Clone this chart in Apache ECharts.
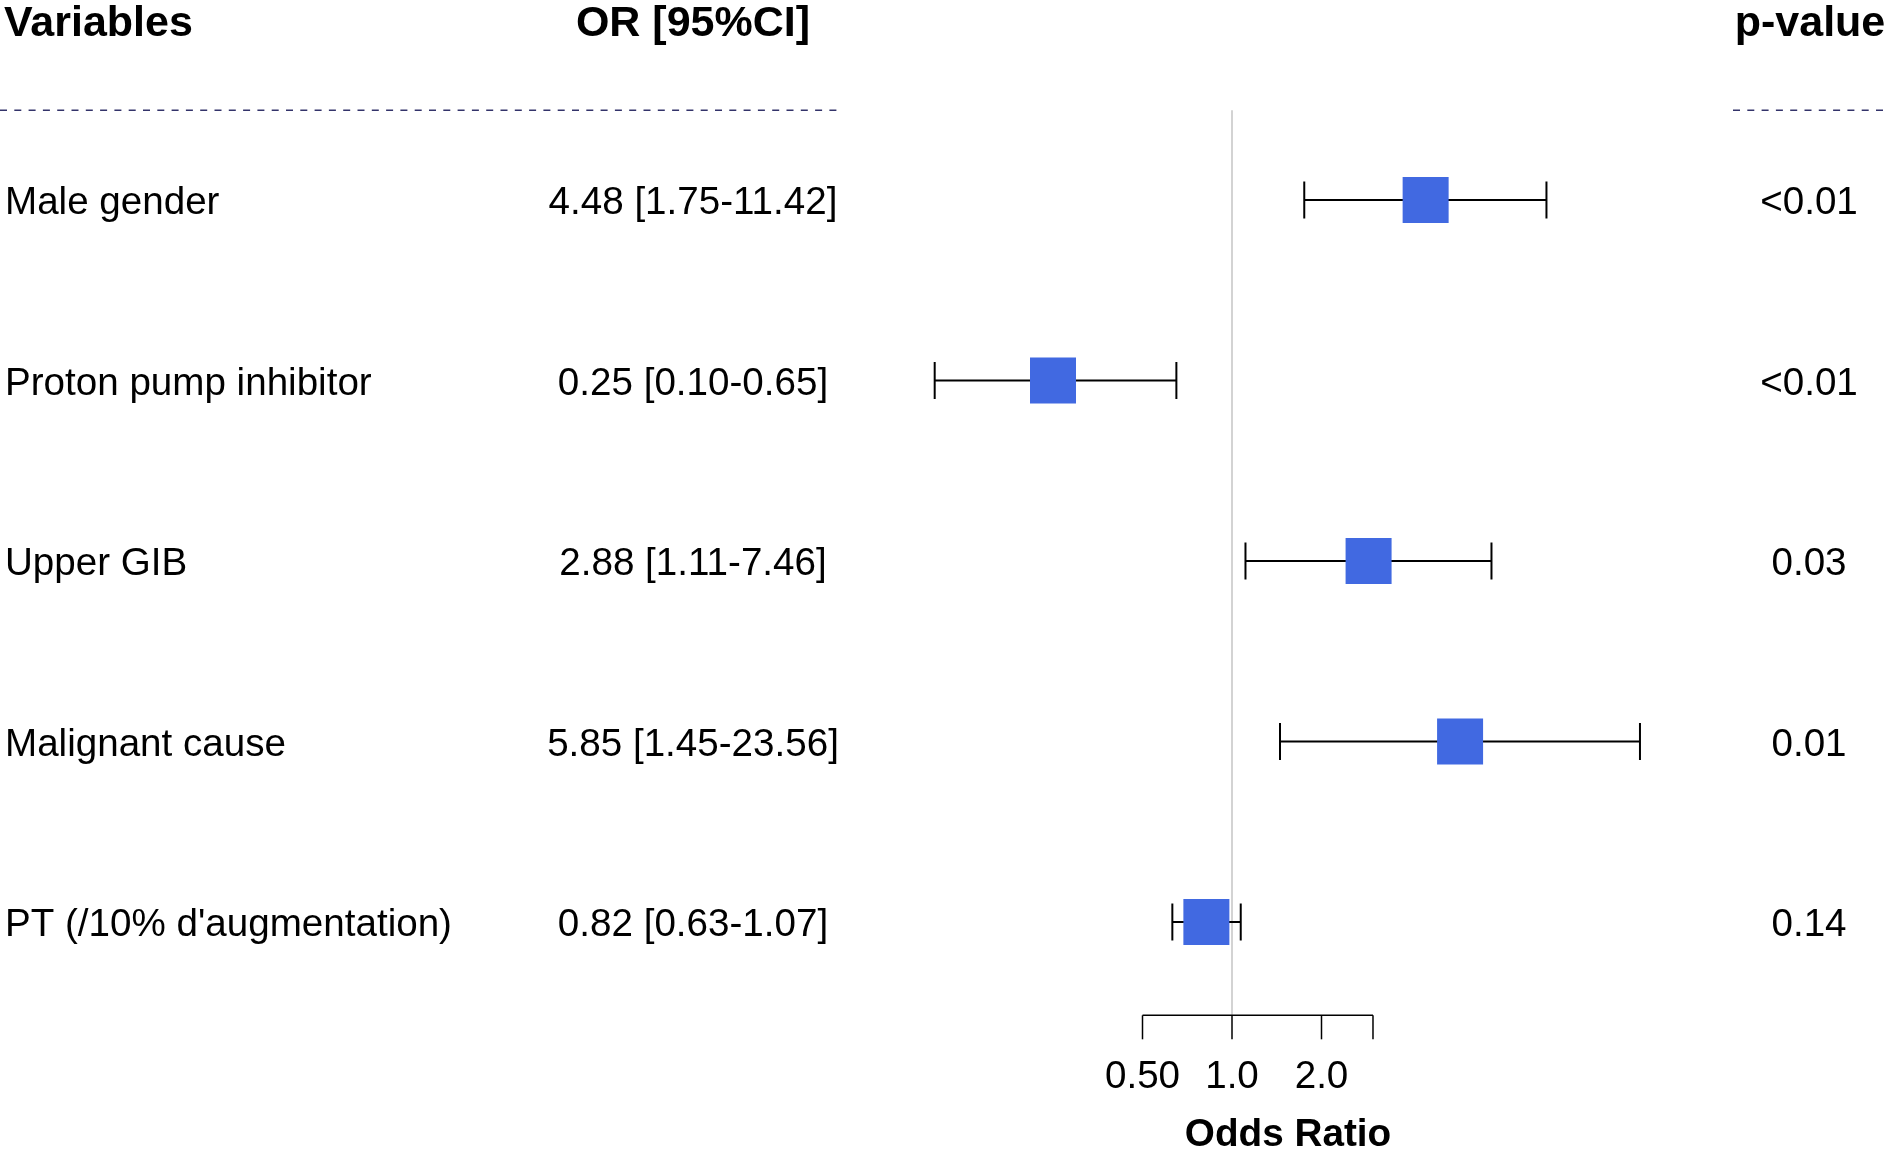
<!DOCTYPE html>
<html>
<head>
<meta charset="utf-8">
<script src="https://cdn.jsdelivr.net/npm/echarts@6/dist/echarts.min.js"></script>
<style>
html,body{margin:0;padding:0;background:#fff;}
#chart{width:1888px;height:1149px;}
</style>
</head>
<body>
<div id="chart"></div>
<script>
// ---- data ----
const variables = ['Male gender', 'Proton pump inhibitor', 'Upper GIB', 'Malignant cause', "PT (/10% d'augmentation)"];
const orValues = [4.48, 0.25, 2.88, 5.85, 0.82];
const ciLower = [1.75, 0.10, 1.11, 1.45, 0.63];
const ciUpper = [11.42, 0.65, 7.46, 23.56, 1.07];
const pValues = ['<0.01', '<0.01', '0.03', '0.01', '0.14'];
const headers = ['Variables', 'OR [95%CI]', 'p-value'];
const axisTicks = [0.5, 1, 2, 2.98];
const axisTickLabels = ['0.50', '1.0', '2.0', ''];
const axisTitle = 'Odds Ratio';

const orText = orValues.map((v, i) => v.toFixed(2) + ' [' + ciLower[i].toFixed(2) + '-' + ciUpper[i].toFixed(2) + ']');

const FONT = '"Liberation Sans", Arial, Helvetica, sans-serif';
const BODY = '38.6px ' + FONT;
const TXT_DY = 3.5;
const chart = echarts.init(document.getElementById('chart'), null, {renderer: 'canvas'});

const option = {
  backgroundColor: '#ffffff',
  animation: false,
  grid: {left: 874, right: 208.5, top: 19.5, bottom: 46.5, containLabel: false},
  xAxis: {type: 'log', logBase: 2, min: 0.0625, max: 32, show: false},
  yAxis: {type: 'value', inverse: true, min: -1, max: 5, show: false},
  series: [
    {
      // frame: headers, dashed rules, reference line, x axis
      type: 'custom',
      z: 1,
      silent: true,
      data: [[0]],
      renderItem: function (params, api) {
        const children = [];
        const hy = api.coord([1, -0.993])[1] + TXT_DY;
        const ruleY = api.coord([1, -0.497])[1];
        const axisY = api.coord([1, 4.517])[1];
        const labY = api.coord([1, 4.842])[1] + TXT_DY;
        const titY = api.coord([1, 5.163])[1] + TXT_DY;
        const headX = [4, 693, 1810];
        const headAlign = ['left', 'center', 'center'];
        headers.forEach((h, k) => {
          children.push({type: 'text', style: {text: h, x: headX[k], y: hy, align: headAlign[k], verticalAlign: 'middle',
            font: 'bold 43px ' + FONT, fill: '#000'}});
        });
        const dashStyle = {stroke: '#33336a', lineWidth: 1.6, lineDash: [7, 7.3]};
        children.push({type: 'line', shape: {x1: 0, y1: ruleY, x2: 840, y2: ruleY}, style: dashStyle});
        children.push({type: 'line', shape: {x1: 1733, y1: ruleY, x2: 1888, y2: ruleY}, style: dashStyle});
        const x1 = api.coord([1, 0])[0];
        children.push({type: 'line', shape: {x1: x1, y1: ruleY, x2: x1, y2: axisY}, style: {stroke: '#d3d3d3', lineWidth: 2}});
        const xa = api.coord([axisTicks[0], 0])[0];
        const xb = api.coord([axisTicks[axisTicks.length - 1], 0])[0];
        children.push({type: 'line', shape: {x1: xa, y1: axisY, x2: xb, y2: axisY}, style: {stroke: '#000', lineWidth: 1.5}});
        axisTicks.forEach((t, k) => {
          const tx = api.coord([t, 0])[0];
          children.push({type: 'line', shape: {x1: tx, y1: axisY, x2: tx, y2: axisY + 24}, style: {stroke: '#000', lineWidth: 1.5}});
          if (axisTickLabels[k]) {
            children.push({type: 'text', style: {text: axisTickLabels[k], x: tx, y: labY, align: 'center', verticalAlign: 'middle',
              font: BODY, fill: '#000'}});
          }
        });
        children.push({type: 'text', style: {text: axisTitle, x: 1288, y: titY, align: 'center', verticalAlign: 'middle',
          font: 'bold 38.7px ' + FONT, fill: '#000'}});
        return {type: 'group', children: children};
      }
    },
    {
      // table text
      type: 'custom',
      z: 2,
      silent: true,
      data: variables.map((v, i) => [i]),
      renderItem: function (params, api) {
        const i = params.dataIndex;
        const y = api.coord([1, api.value(0)])[1] + TXT_DY;
        return {type: 'group', children: [
          {type: 'text', style: {text: variables[i], x: 5, y: y, align: 'left', verticalAlign: 'middle', font: BODY, fill: '#000'}},
          {type: 'text', style: {text: orText[i], x: 693, y: y, align: 'center', verticalAlign: 'middle', font: BODY, fill: '#000'}},
          {type: 'text', style: {text: pValues[i], x: 1809, y: y, align: 'center', verticalAlign: 'middle', font: BODY, fill: '#000'}}
        ]};
      }
    },
    {
      // confidence intervals
      type: 'custom',
      z: 3,
      silent: true,
      data: variables.map((v, i) => [ciLower[i], ciUpper[i], i]),
      renderItem: function (params, api) {
        const i = api.value(2);
        const p1 = api.coord([api.value(0), i]);
        const p2 = api.coord([api.value(1), i]);
        const h = 18.5;
        const st = {stroke: '#000', lineWidth: 2};
        return {type: 'group', children: [
          {type: 'line', shape: {x1: p1[0], y1: p1[1], x2: p2[0], y2: p2[1]}, style: st},
          {type: 'line', shape: {x1: p1[0], y1: p1[1] - h, x2: p1[0], y2: p1[1] + h}, style: st},
          {type: 'line', shape: {x1: p2[0], y1: p2[1] - h, x2: p2[0], y2: p2[1] + h}, style: st}
        ]};
      }
    },
    {
      type: 'scatter',
      z: 4,
      silent: true,
      symbol: 'rect',
      symbolSize: 46,
      itemStyle: {color: '#4169E1', opacity: 1},
      data: orValues.map((v, i) => [v, i])
    }
  ]
};
chart.setOption(option);
</script>
</body>
</html>
